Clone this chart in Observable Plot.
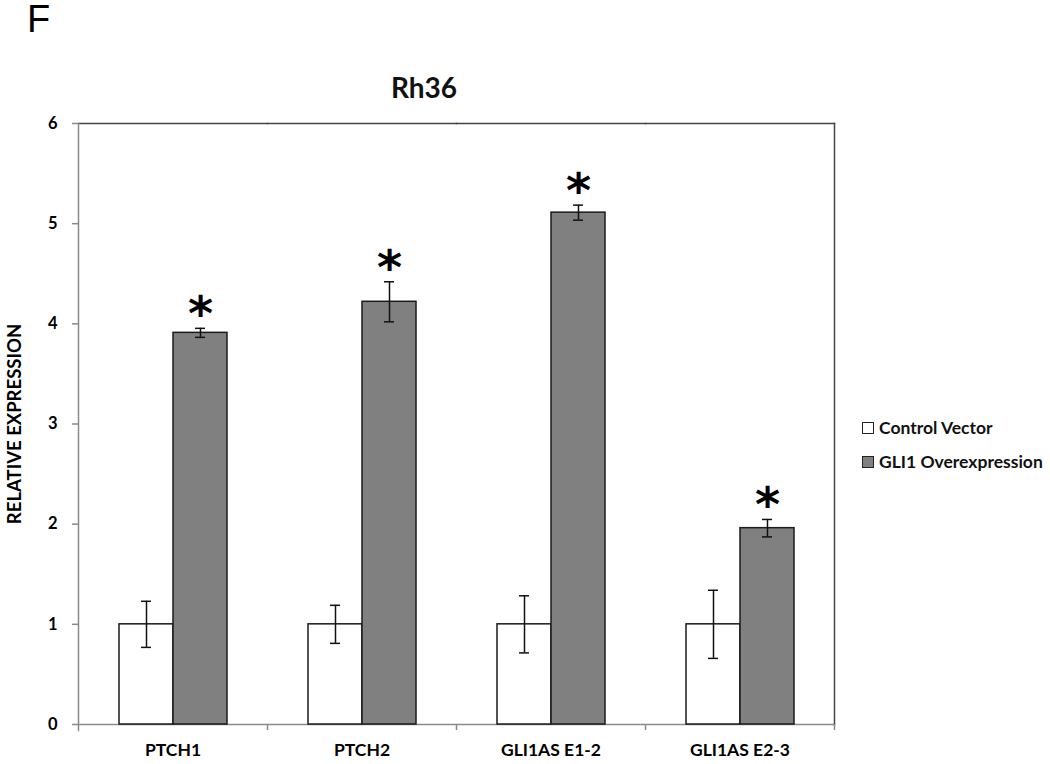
<!DOCTYPE html>
<html>
<head>
<meta charset="utf-8">
<script src="https://cdn.jsdelivr.net/npm/d3@7"></script>
<script src="https://cdn.jsdelivr.net/npm/@observablehq/plot@0.6"></script>
<style>
  html, body { margin: 0; padding: 0; background: #fff; }
  #wrap { position: relative; width: 1050px; height: 764px; font-family: Lato, "Open Sans", sans-serif; }
  #panel { position: absolute; left: 27px; top: 0px; font-family: "Liberation Sans", Arial, sans-serif; font-size: 38px; line-height: 1; color: #000; }
  #title { position: absolute; left: 424px; top: 87px; transform: translate(-50%, -50%); font-weight: bold; font-size: 28px; color: #111; }
  .leg { position: absolute; left: 862px; display: flex; align-items: center; font-weight: bold; font-size: 17.5px; color: #111; }
  .sw { width: 10px; height: 10px; border: 1px solid #222; margin-right: 5px; }
  #chart { position: absolute; left: 0; top: 0; }
</style>
</head>
<body>
<div id="wrap">
  <div id="chart"></div>
  <div id="panel">F</div>
  <div id="title">Rh36</div>
  <div id="legend"></div>
</div>
<script>
// ---- data ----
const categories = ["PTCH1", "PTCH2", "GLI1AS E1-2", "GLI1AS E2-3"];
const series = ["Control Vector", "GLI1 Overexpression"];
const controlMean = [1, 1, 1, 1];
const controlErr = [0.23, 0.19, 0.285, 0.34];
const gli1Mean = [3.91, 4.22, 5.11, 1.96];
const gli1Err = [0.045, 0.2, 0.075, 0.087];
const gli1Significant = [true, true, true, true];
const yTicks = [0, 1, 2, 3, 4, 5, 6];
const seriesColors = ["#ffffff", "#808080"];

// ---- table ----
const rows = [];
categories.forEach((c, i) => {
  rows.push({category: c, series: series[0], value: controlMean[i], err: controlErr[i], sig: false});
  rows.push({category: c, series: series[1], value: gli1Mean[i], err: gli1Err[i], sig: gli1Significant[i]});
});
rows.forEach(d => { d.lo = d.value - d.err; d.hi = d.value + d.err; });

const W = 1050, H = 764;
const mL = 78, mR = 216, mT = 123, mB = 40;
const facetW = (W - mL - mR) / categories.length;

const chart = Plot.plot({
  width: W,
  height: H,
  marginLeft: mL,
  marginRight: mR,
  marginTop: mT,
  marginBottom: mB,
  style: {fontFamily: "Lato, 'Open Sans', sans-serif", background: "transparent"},
  fx: {domain: categories, padding: 0, label: null},
  x: {domain: series, paddingInner: 0, paddingOuter: 0.75, axis: null},
  y: {domain: [0, 6], label: null},
  color: {domain: series, range: seriesColors},
  marks: [
    Plot.ruleY([0], {stroke: "#8a8a8a", strokeWidth: 1.5}),
    Plot.frame({anchor: "top", stroke: "#444", strokeWidth: 1.5}),
    Plot.frame({anchor: "right", facetAnchor: "right", stroke: "#444", strokeWidth: 1.5}),
    Plot.frame({anchor: "left", facetAnchor: "left", stroke: "#8a8a8a", strokeWidth: 1.5, insetBottom: -6}),
    Plot.axisY({anchor: "left", ticks: yTicks, tickFormat: d3.format("d"), tickSize: 6, tickPadding: 15,
      stroke: "#8a8a8a", strokeWidth: 1.5, fontSize: 16.5, fontWeight: "bold", label: null}),
    Plot.axisY({anchor: "left", ticks: [], tickSize: 0, label: "RELATIVE EXPRESSION",
      labelAnchor: "center", labelOffset: 71, labelArrow: "none", fontSize: 18.5, fontWeight: "bold"}),
    Plot.axisFx({anchor: "bottom", tickSize: 6, tickFormat: () => "", dx: facetW / 2, stroke: "#8a8a8a", strokeWidth: 1.5, label: null}),
    Plot.axisFx({anchor: "bottom", tickSize: 0, tickPadding: 19, fontSize: 17.5, fontWeight: "bold", label: null}),
    Plot.barY(rows, {fx: "category", x: "series", y: "value", fill: "series", stroke: "#1a1a1a", strokeWidth: 1.5}),
    Plot.ruleX(rows, {fx: "category", x: "series", y1: "lo", y2: "hi", stroke: "#111", strokeWidth: 1.5}),
    Plot.tickY(rows, {fx: "category", x: "series", y: "lo", stroke: "#111", strokeWidth: 1.5, insetLeft: 22, insetRight: 22}),
    Plot.tickY(rows, {fx: "category", x: "series", y: "hi", stroke: "#111", strokeWidth: 1.5, insetLeft: 22, insetRight: 22}),
    Plot.text(rows.filter(d => d.sig), {fx: "category", x: "series", y: "hi", text: () => "*",
      fontSize: 48, fontWeight: "bold", fontFamily: "'DejaVu Sans', sans-serif", lineAnchor: "bottom", dy: 2, fill: "#000"})
  ]
});
document.getElementById("chart").appendChild(chart);

// ---- legend ----
const legend = document.getElementById("legend");
series.forEach((s, i) => {
  const item = document.createElement("div");
  item.className = "leg";
  item.style.top = (417 + i * 34) + "px";
  const sw = document.createElement("div");
  sw.className = "sw";
  sw.style.background = seriesColors[i];
  const t = document.createElement("span");
  t.textContent = s;
  item.appendChild(sw);
  item.appendChild(t);
  legend.appendChild(item);
});
</script>
</body>
</html>
